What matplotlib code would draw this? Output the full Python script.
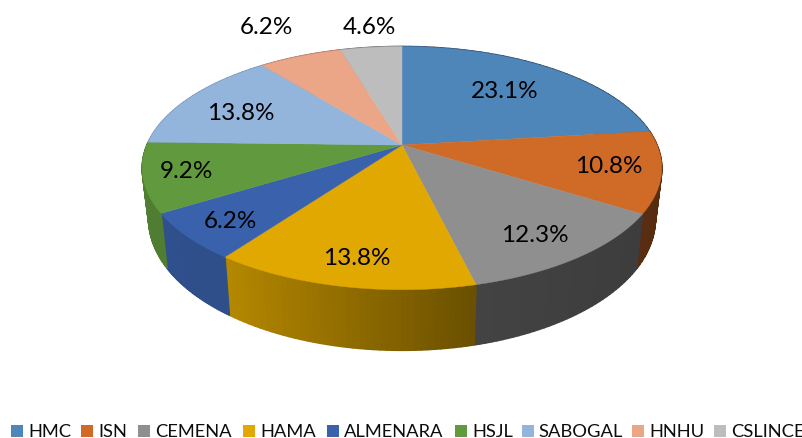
import numpy as np
import matplotlib
matplotlib.use('Agg')
import matplotlib.pyplot as plt
from matplotlib.collections import PolyCollection
from matplotlib.patches import Polygon, Rectangle

names = ['HMC', 'ISN', 'CEMENA', 'HAMA', 'ALMENARA', 'HSJL', 'SABOGAL', 'HNHU', 'CSLINCE']
values = [23.1, 10.8, 12.3, 13.8, 6.2, 9.2, 13.8, 6.2, 4.6]
colors = ['#4E86BA', '#CF6B27', '#8F8F8F', '#E0A800', '#3A62AC', '#619A3E', '#93B5DC', '#EBA587', '#BDBDBD']

# where things go, in pixels of the 803x439 picture
CX, CY = 402, 146
R, A, K = 255, 117.2, 0.19
label_pos = [(505, 91), (609, 167), (535, 236), (357, 259), (230, 222), (186, 172), (241, 114), (266, 28), (369, 28)]
legend_box = [11, 81, 138, 243, 327, 455, 522, 632, 714]
legend_txt = [28, 98, 155, 260, 344, 472, 538, 649, 731]

plt.rcParams['font.family'] = ['Lato', 'DejaVu Sans']


def rim(theta):
    # perspective circle, theta clockwise from the top
    u, v = np.sin(theta), np.cos(theta)
    d = 1 + K * v
    return CX + R * u / d, CY - A * v / d


def lower(x, y):
    return CX + 0.975 * (x - CX), CY + 49.3 + 1.078 * (y - CY)


def shade(x):
    return np.interp(x, [142, 230, 476, 662], [0.82, 0.8, 0.47, 0.42])


fig = plt.figure(figsize=(8.03, 4.39), dpi=100)
ax = fig.add_axes([0, 0, 1, 1])
ax.set_xlim(0, 803)
ax.set_ylim(439, 0)
ax.axis('off')

edges = np.cumsum([0] + values) / sum(values) * 2 * np.pi

# side walls first, the top faces cover whatever is behind
for i in range(len(values)):
    th = np.linspace(edges[i], edges[i + 1], 40)
    x, y = rim(th)
    xb, yb = lower(x, y)
    quads = []
    cols = []
    base = np.array(matplotlib.colors.to_rgb(colors[i]))
    for j in range(len(th) - 1):
        quads.append([(x[j], y[j]), (x[j + 1], y[j + 1]), (xb[j + 1], yb[j + 1]), (xb[j], yb[j])])
        cols.append(tuple(base * shade((x[j] + x[j + 1]) / 2)))
    ax.add_collection(PolyCollection(quads, facecolors=cols, edgecolors=cols, linewidths=1.2))

for i in range(len(values)):
    th = np.linspace(edges[i], edges[i + 1], 80)
    x, y = rim(th)
    pts = np.column_stack([np.r_[CX, x], np.r_[CY, y]])
    ax.add_patch(Polygon(pts, closed=True, facecolor=colors[i], edgecolor=colors[i], linewidth=0.3))

for v, (lx, ly) in zip(values, label_pos):
    ax.text(lx, ly, f'{v:.1f}%', ha='center', va='center', fontsize=17.5, color='black')

for i, name in enumerate(names):
    ax.add_patch(Rectangle((legend_box[i], 426), 12, 12, facecolor=colors[i], edgecolor='none'))
    ax.text(legend_txt[i], 432, name, ha='left', va='center', fontsize=13.2, color='#0d0d0d')

fig.savefig('out.png', dpi=100)
